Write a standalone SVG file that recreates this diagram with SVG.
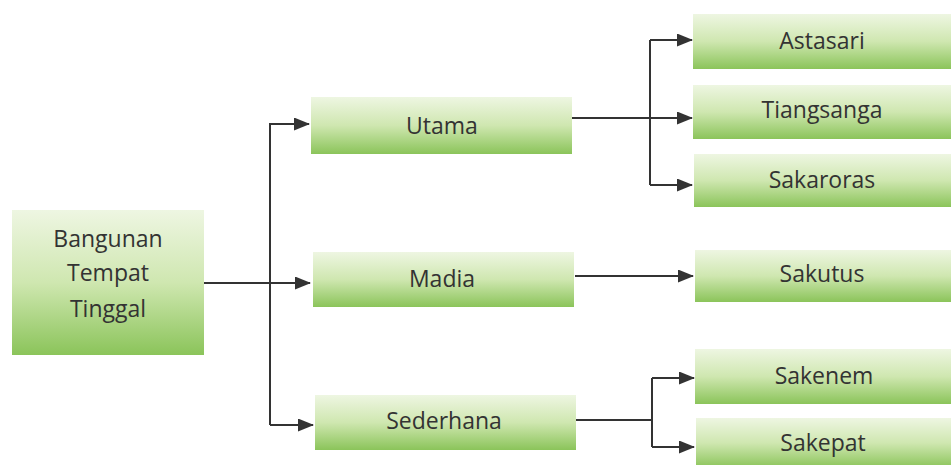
<svg xmlns="http://www.w3.org/2000/svg" width="951" height="465" viewBox="0 0 951 465">
<defs>
<linearGradient id="g" x1="0" y1="0" x2="0" y2="1">
<stop offset="0" stop-color="#eef6e2"/>
<stop offset="0.5" stop-color="#cfe7b0"/>
<stop offset="1" stop-color="#8bc45a"/>
</linearGradient>
<marker id="ah" markerWidth="16" markerHeight="13" refX="15" refY="6.5" orient="auto" markerUnits="userSpaceOnUse">
<path d="M0,0 L16,6.5 L0,13 Z" fill="#333"/>
</marker>
<style>
.box{fill:url(#g);}
.t{font-family:"Open Sans","Liberation Sans",sans-serif;font-size:23px;fill:#333;text-anchor:middle;dominant-baseline:middle;}
.c{fill:none;stroke:#333;stroke-width:2;}
.a{fill:none;stroke:#333;stroke-width:2;marker-end:url(#ah);}
</style>
</defs>
<rect width="951" height="465" fill="#fff"/>
<g id="connectors">
<line class="a" x1="204" y1="283" x2="310" y2="283"/>
<polyline class="c" points="270,123 270,425"/>
<polyline class="a" points="270,124 309,124"/>
<polyline class="a" points="270,425 313,425"/>
<line class="c" x1="572" y1="118" x2="650" y2="118"/>
<polyline class="c" points="650,40 650,185"/>
<polyline class="a" points="650,40 692,40"/>
<polyline class="a" points="650,118 692,118"/>
<polyline class="a" points="650,185 692,185"/>
<line class="a" x1="575" y1="276" x2="693" y2="276"/>
<line class="c" x1="576" y1="420" x2="652" y2="420"/>
<polyline class="c" points="652,378 652,447"/>
<polyline class="a" points="652,378 694,378"/>
<polyline class="a" points="652,447 694,447"/>
</g>
<g id="root"><rect class="box" x="12" y="210" width="192" height="145"/>
<text class="t" x="108" y="241">Bangunan</text><text class="t" x="108" y="275">Tempat</text><text class="t" x="108" y="311">Tinggal</text></g>
<g id="utama"><rect class="box" x="311" y="97" width="261" height="57"/><text class="t" x="442" y="128">Utama</text></g>
<g id="madia"><rect class="box" x="313" y="252" width="261" height="55"/><text class="t" x="442" y="281">Madia</text></g>
<g id="sederhana"><rect class="box" x="315" y="395" width="261" height="55"/><text class="t" x="444" y="423">Sederhana</text></g>
<g id="astasari"><rect class="box" x="693" y="14" width="258" height="55"/><text class="t" x="822" y="43">Astasari</text></g>
<g id="tiangsanga"><rect class="box" x="693" y="85" width="258" height="54"/><text class="t" x="822" y="112">Tiangsanga</text></g>
<g id="sakaroras"><rect class="box" x="694" y="154" width="257" height="53"/><text class="t" x="822" y="182">Sakaroras</text></g>
<g id="sakutus"><rect class="box" x="695" y="250" width="256" height="52"/><text class="t" x="822" y="276">Sakutus</text></g>
<g id="sakenem"><rect class="box" x="695" y="349" width="256" height="55"/><text class="t" x="824" y="378">Sakenem</text></g>
<g id="sakepat"><rect class="box" x="696" y="418" width="255" height="50"/><text class="t" x="823" y="445">Sakepat</text></g>
</svg>
